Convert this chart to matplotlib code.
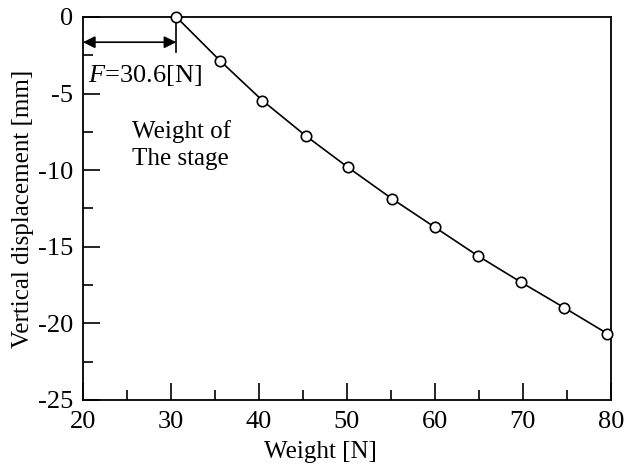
import matplotlib
matplotlib.use("Agg")
import matplotlib.pyplot as plt
from matplotlib.ticker import MultipleLocator

weight = [30.6, 35.6, 40.4, 45.3, 50.1, 55.1, 60.0, 64.9, 69.8, 74.7, 79.6]
displacement = [0.0, -2.87, -5.46, -7.75, -9.81, -11.86, -13.73, -15.6, -17.32, -18.98, -20.67]
stage_force = 30.6

plt.rcParams['font.family'] = ['Liberation Serif', 'DejaVu Serif']
plt.rcParams['mathtext.fontset'] = 'custom'
plt.rcParams['mathtext.it'] = 'Liberation Serif:italic'
plt.rcParams['mathtext.rm'] = 'Liberation Serif'
plt.rcParams['axes.unicode_minus'] = False

fig = plt.figure(figsize=(6.24, 4.70), dpi=100)
ax = fig.add_axes([0.133, 0.149, 0.846, 0.815])

ax.plot(weight, displacement, color='black', lw=1.2, marker='o', ms=7.5,
        mfc='white', mec='black', mew=1.2, zorder=3, clip_on=False)

ax.set_xlim(20, 80)
ax.set_ylim(-25, 0)
ax.xaxis.set_major_locator(MultipleLocator(10))
ax.xaxis.set_minor_locator(MultipleLocator(5))
ax.yaxis.set_major_locator(MultipleLocator(5))
ax.yaxis.set_minor_locator(MultipleLocator(2.5))
ax.tick_params(which='both', direction='in', top=False, right=False,
               labelsize=19, width=1.2)
ax.tick_params(axis='x', which='both', pad=8)
ax.tick_params(axis='y', which='both', pad=7)
ax.tick_params(which='major', length=12)
ax.tick_params(which='minor', length=7)
for s in ax.spines.values():
    s.set_linewidth(1.3)

fig.text(320 / 624, 1 - 452 / 470, 'Weight [N]', fontsize=18,
         ha='center', va='center')
ax.set_ylabel('Vertical displacement [mm]', fontsize=18, labelpad=3)

# annotation: arrow from 20 to F
ax.plot([stage_force, stage_force], [0, -2.3], color='black', lw=1.2)
ax.annotate('', xy=(20, -1.65), xytext=(stage_force, -1.65),
            arrowprops=dict(arrowstyle='<|-|>', color='black', lw=1.2,
                            mutation_scale=18, shrinkA=0, shrinkB=0))
ax.text(20.6, -3.85, r'$\mathit{F}$=30.6[N]', fontsize=19, va='center', ha='left')
ax.text(25.6, -8.35, 'Weight of\nThe stage', fontsize=18, va='center', ha='left',
        linespacing=1.3)

fig.savefig('out.png', dpi=100)
